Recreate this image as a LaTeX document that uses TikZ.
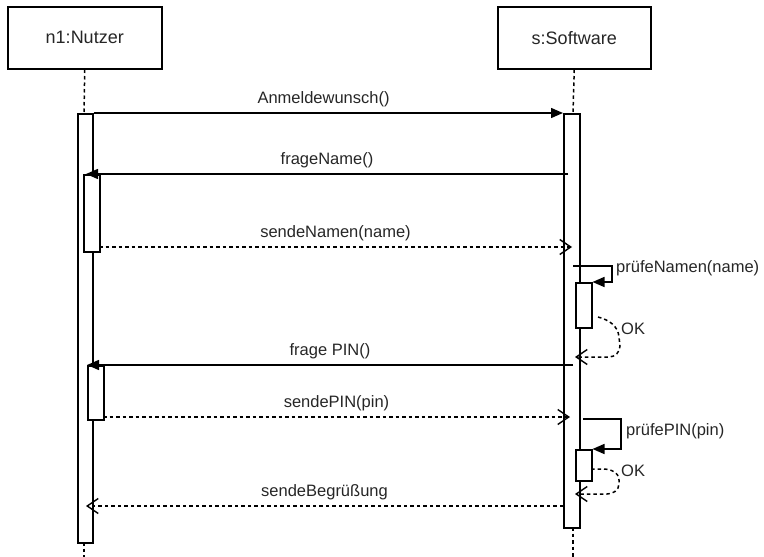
\documentclass[tikz,border=0pt]{standalone}
\usepackage{fontspec}
\setmainfont{Liberation Sans}
\usetikzlibrary{arrows.meta}

\tikzset{
  headbox/.style={draw=black, line width=1.5pt, fill=white, inner sep=0pt,
    anchor=north west, text=black!85, font=\fontsize{18}{20}\selectfont},
  actbox/.style={draw=black, line width=1.5pt, fill=white, inner sep=0pt, anchor=north west},
  lifeline/.style={line width=1.5pt, dash pattern=on 3.5pt off 3pt},
  callmsg/.style={line width=1.5pt, -{Triangle[length=12pt,width=10pt]}},
  replymsg/.style={line width=1.5pt, dash pattern=on 3.5pt off 3pt,
    -{Straight Barb[length=11pt,width=15pt,line width=1.4pt]}},
  msglabel/.style={font=\fontsize{16.5}{18}\selectfont, text=black!85, inner sep=0pt},
}

\begin{document}
\begin{tikzpicture}[x=1pt, y=-1pt]
\useasboundingbox (0,0) rectangle (764,557);

% participant heads
\node[headbox, minimum width=154pt, minimum height=62pt] (user) at (7,6) {n1:Nutzer};
\node[headbox, minimum width=153pt, minimum height=62pt] (soft) at (497,6) {s:Software};

% lifelines
\coordinate (uTop) at (84,113);
\coordinate (uEnd) at (84,557);
\coordinate (sTop) at (573,113);
\coordinate (sEnd) at (573,557);
\draw[lifeline] (user.south) -- (uTop);
\draw[lifeline] (soft.south) -- (sTop);
\draw[lifeline] (84,542) -- (uEnd);
\draw[lifeline] (573,527) -- (sEnd);

% activation bars
\node[actbox, minimum width=15pt, minimum height=429pt] (aU) at (77,113) {};
\node[actbox, minimum width=16pt, minimum height=77pt] (aU1) at (83,174) {};
\node[actbox, minimum width=16pt, minimum height=54pt] (aU2) at (87,365) {};
\node[actbox, minimum width=16pt, minimum height=414pt] (aS) at (563,113) {};
\node[actbox, minimum width=16pt, minimum height=45pt] (aS1) at (575,282) {};
\node[actbox, minimum width=16pt, minimum height=31pt] (aS2) at (575,449) {};

% message end points
\coordinate (fnFrom) at (568,174);
\coordinate (fnTo) at (86,174);
\coordinate (snFrom) at (99,247);
\coordinate (snTo) at (572,247);
\coordinate (pnFrom) at (573,266);
\coordinate (pnA) at (612,266);
\coordinate (pnB) at (612,282);
\coordinate (ok1From) at (598,317);
\coordinate (ok1To) at (575,357);
\coordinate (fpFrom) at (573,365);
\coordinate (fpTo) at (87,365);
\coordinate (spFrom) at (103,417);
\coordinate (spTo) at (570,417);
\coordinate (ppFrom) at (583,419);
\coordinate (ppA) at (621,419);
\coordinate (ppB) at (621,449);
\coordinate (ok2From) at (591,469);
\coordinate (ok2To) at (575,494);
\coordinate (sbFrom) at (563,506);
\coordinate (sbTo) at (86,506);

% messages
\draw[callmsg] (aU.north east) -- (aS.north west)
  node[msglabel, pos=0.49, above=5pt] {Anmeldewunsch()};
\draw[callmsg] (fnFrom) -- (fnTo)
  node[msglabel, midway, above=5pt] {frageName()};
\draw[replymsg] (snFrom) -- (snTo)
  node[msglabel, midway, above=5pt] {sendeNamen(name)};
\draw[callmsg] (pnFrom) -- (pnA) -- (pnB) -- (aS1.north east);
\node[msglabel, anchor=west] (pnLabel) at (616,268) {prüfeNamen(name)};
\draw[replymsg] (ok1From) to[out=-15,in=95] (619,337) -- (620,346)
  to[out=-90,in=0] (609,357) -- (ok1To);
\node[msglabel, anchor=west] (ok1Label) at (621,329) {OK};
\draw[callmsg] (fpFrom) -- (fpTo)
  node[msglabel, midway, above=5pt] {frage PIN()};
\draw[replymsg] (spFrom) -- (spTo)
  node[msglabel, midway, above=5pt] {sendePIN(pin)};
\draw[callmsg] (ppFrom) -- (ppA) -- (ppB) -- (aS2.north east);
\node[msglabel, anchor=west] (ppLabel) at (626,431) {prüfePIN(pin)};
\draw[replymsg] (ok2From) -- (603,469) to[out=0,in=90] (619,480) -- (619,484)
  to[out=-90,in=0] (607,494) -- (ok2To);
\node[msglabel, anchor=west] (ok2Label) at (621,471) {OK};
\draw[replymsg] (sbFrom) -- (sbTo)
  node[msglabel, midway, above=5pt] {sendeBegrüßung};
\end{tikzpicture}
\end{document}
